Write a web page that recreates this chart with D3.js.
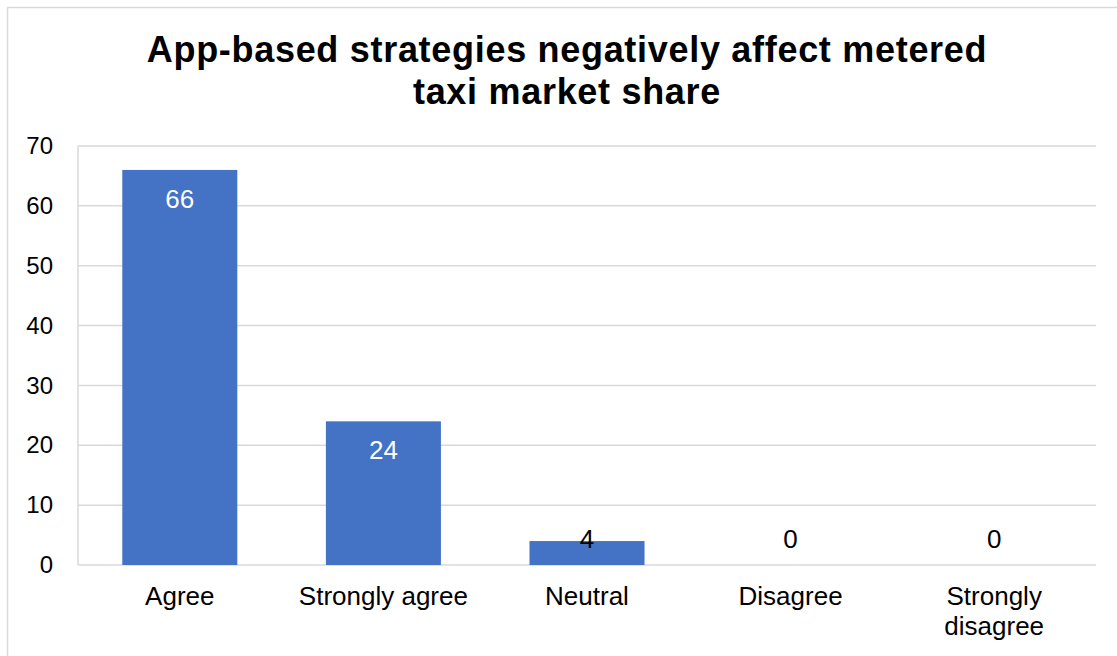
<!DOCTYPE html>
<html>
<head>
<meta charset="utf-8">
<script src="https://cdn.jsdelivr.net/npm/d3@7/dist/d3.min.js"></script>
<style>
  html, body { margin: 0; padding: 0; background: #fff; }
  svg { display: block; }
  text { font-family: "Liberation Sans", Arial, sans-serif; }
</style>
</head>
<body>
<svg id="chart" width="1117" height="656"></svg>
<script>
// Survey responses
const categories = ["Agree", "Strongly agree", "Neutral", "Disagree", "Strongly disagree"];
const values = [66, 24, 4, 0, 0];
const yTicks = [0, 10, 20, 30, 40, 50, 60, 70];
const titleLines = ["App-based strategies negatively affect metered", "taxi market share"];

const W = 1117, H = 656;
const plot = { left: 78, right: 1096, top: 146, bottom: 565 };

const svg = d3.select("#chart");

// outer chart frame (right and bottom edges run off the canvas)
svg.append("rect")
  .attr("x", 7.5).attr("y", 7.5)
  .attr("width", W + 20).attr("height", H + 20)
  .attr("fill", "#fff")
  .attr("stroke", "#d9d9d9").attr("stroke-width", 1.5);

// title
svg.append("g")
  .selectAll("text")
  .data(titleLines)
  .join("text")
  .attr("x", 567)
  .attr("y", (d, i) => 62 + i * 42)
  .attr("text-anchor", "middle")
  .attr("font-size", 36)
  .attr("letter-spacing", 0.7)
  .attr("font-weight", "bold")
  .attr("fill", "#000")
  .text(d => d);

const x = d3.scaleBand()
  .domain(categories)
  .range([plot.left, plot.right])
  .paddingInner(0.435)
  .paddingOuter(0.2175);

const y = d3.scaleLinear()
  .domain([0, 70])
  .range([plot.bottom, plot.top]);

// gridlines
svg.append("g")
  .selectAll("line")
  .data(yTicks)
  .join("line")
  .attr("x1", plot.left).attr("x2", plot.right)
  .attr("y1", d => y(d)).attr("y2", d => y(d))
  .attr("stroke", "#d9d9d9").attr("stroke-width", 1.5);

// left plot edge
svg.append("line")
  .attr("x1", plot.left).attr("x2", plot.left)
  .attr("y1", plot.top).attr("y2", plot.bottom)
  .attr("stroke", "#d9d9d9").attr("stroke-width", 1.5);

// y axis labels
const yAxis = d3.axisLeft(y).tickValues(yTicks).tickSize(0).tickPadding(25);
const gy = svg.append("g").attr("transform", `translate(${plot.left},0)`).call(yAxis);
gy.select(".domain").remove();
gy.selectAll("text")
  .attr("font-size", 24)
  .attr("fill", "#000")
  .attr("font-family", "Liberation Sans, Arial, sans-serif");

// bars
svg.append("g")
  .selectAll("rect")
  .data(values)
  .join("rect")
  .attr("x", (d, i) => x(categories[i]))
  .attr("y", d => y(d))
  .attr("width", x.bandwidth())
  .attr("height", d => y(0) - y(d))
  .attr("fill", "#4472c4");

// value labels: inside the bar end when they fit, otherwise just above the axis
const labelFloor = y(0) - 17;
svg.append("g")
  .selectAll("text")
  .data(values)
  .join("text")
  .attr("x", (d, i) => x(categories[i]) + x.bandwidth() / 2)
  .attr("y", d => Math.min(y(d) + 38, labelFloor))
  .attr("text-anchor", "middle")
  .attr("font-size", 26)
  .attr("fill", d => (y(d) + 38 <= labelFloor ? "#fff" : "#000"))
  .text(d => d);

// x axis labels (wrapped to fit the category width)
const xLabels = svg.append("g")
  .selectAll("text")
  .data(categories)
  .join("text")
  .attr("x", d => x(d) + x.bandwidth() / 2)
  .attr("y", 605)
  .attr("text-anchor", "middle")
  .attr("font-size", 26)
  .attr("fill", "#000");

xLabels.each(function(d) {
  const t = d3.select(this);
  const lines = d === "Strongly disagree" ? ["Strongly", "disagree"] : [d];
  lines.forEach((ln, i) => {
    t.append("tspan")
      .attr("x", x(d) + x.bandwidth() / 2)
      .attr("dy", i === 0 ? 0 : 30)
      .text(ln);
  });
});
</script>
</body>
</html>
